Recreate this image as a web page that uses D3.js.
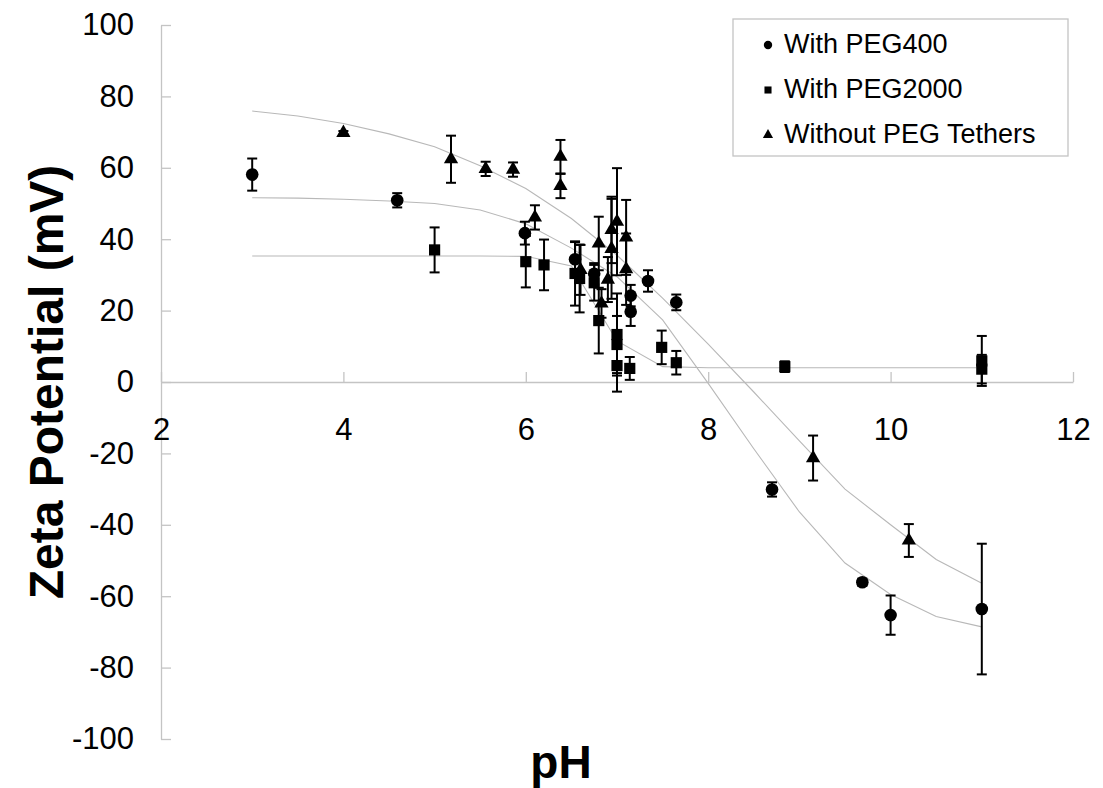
<!DOCTYPE html>
<html>
<head>
<meta charset="utf-8">
<script src="https://cdn.jsdelivr.net/npm/d3@7"></script>
<style>
  body { margin: 0; background: #fff; }
  text { font-family: "Liberation Sans", Arial, sans-serif; }
</style>
</head>
<body>
<div id="chart-area"></div>
<script>

// measured points: [pH, zeta (mV), error]
const peg400 = [
    [3.0, 58.1, 4.5], [4.59, 50.9, 2], [5.99, 41.7, 3.2], [6.54, 34.4, 4.8],
    [6.75, 30.3, 3], [7.15, 24.2, 3], [7.15, 19.7, 4], [7.34, 28.3, 3],
    [7.65, 22.3, 2.2], [8.7, -30.1, 2], [9.69, -56.1, 1], [10.0, -65.3, 5.5],
    [11.0, -63.6, 18.3]
];
const peg2000 = [
    [5.0, 37.0, 6.3], [6.0, 33.7, 7.2], [6.2, 32.8, 7.1], [6.54, 30.4, 9],
    [6.59, 29.0, 9.5], [6.75, 27.8, 5], [6.8, 17.2, 9.2], [7.0, 13.3, 11.5],
    [7.0, 10.5, 8], [7.0, 4.6, 7.3], [7.14, 3.8, 3.2], [7.49, 9.7, 4.7],
    [7.65, 5.4, 3.3], [8.84, 4.3, 1.5], [11.0, 5.9, 7], [11.0, 3.6, 4]
];
const noPeg = [
    [4.0, 69.8, 0.5], [5.18, 62.4, 6.6], [5.56, 59.7, 2], [5.86, 59.5, 2],
    [6.1, 46.1, 3.4], [6.38, 63.1, 4.7], [6.38, 54.9, 3.4], [6.6, 31.4, 7],
    [6.8, 38.8, 7.5], [6.83, 22.0, 4], [6.9, 28.7, 6.3], [6.94, 42.6, 9.3],
    [6.94, 37.3, 14], [7.0, 44.9, 15], [7.1, 40.5, 10.5], [7.1, 31.6, 10],
    [9.15, -21.3, 6.3], [10.2, -44.4, 4.6]
];

// fitted curves, sampled every 0.5 pH
const fitPH = [3, 3.5, 4, 4.5, 5, 5.5, 6, 6.5, 7, 7.5, 8, 8.5, 9, 9.5, 10, 10.5, 11];
const fit400 = [51.6, 51.5, 51.2, 50.7, 50.0, 48.2, 44.3, 37.5, 29.5, 17.4, -0.4, -18.7, -36.4, -50.7, -59.5, -65.7, -68.6];
const fit2000 = [35.3, 35.3, 35.3, 35.3, 35.3, 35.3, 35.2, 32.5, 11.5, 4.3, 4.0, 4.0, 4.0, 4.0, 4.0, 4.0, 4.0];
const fitNoPeg = [75.9, 74.5, 72.4, 69.5, 65.9, 60.6, 54.2, 45.8, 35.5, 23.5, 10.6, -2.8, -16.5, -30, -40, -49.7, -56.4];

const xTicks = [2, 4, 6, 8, 10, 12];
const yTicks = [-100, -80, -60, -40, -20, 0, 20, 40, 60, 80, 100];
const seriesNames = ["With PEG400", "With PEG2000", "Without PEG Tethers"];

const width = 1103, height = 788;
const axisColor = "#c4c4c4";

const svg = d3.select('#chart-area')
    .append('svg')
    .attr('width', width)
    .attr('height', height);

const x = d3.scaleLinear().domain([2, 12]).range([161, 1073]);
const y = d3.scaleLinear().domain([-100, 100]).range([739, 25]);

// axes (plain hyphen for negatives, like the original)
const fmt = d => String(d);
const yAxis = svg.append("g")
    .attr("transform", "translate(" + x(2) + ",0)")
    .call(d3.axisLeft(y).tickValues(yTicks).tickFormat(fmt)
        .tickSizeInner(-10).tickSizeOuter(0).tickPadding(27));
const xAxis = svg.append("g")
    .attr("transform", "translate(0," + y(0) + ")")
    .call(d3.axisBottom(x).tickValues(xTicks).tickFormat(fmt)
        .tickSizeInner(-10).tickSizeOuter(0).tickPadding(36));

[xAxis, yAxis].forEach(a => {
    a.selectAll("path, line").attr("stroke", axisColor).attr("stroke-width", 1.3);
    a.selectAll("text")
        .attr("fill", "#000")
        .style("font-size", "31px")
        .style("font-family", "'Liberation Sans', Arial, sans-serif");
});

// fitted lines
const line = d3.line().x(d => x(d[0])).y(d => y(d[1]));
[fitNoPeg, fit400, fit2000].forEach(vals => {
    svg.append("path")
        .datum(fitPH.map((p, i) => [p, vals[i]]))
        .attr("fill", "none")
        .attr("stroke", "#b8b8b8")
        .attr("stroke-width", 1.1)
        .attr("d", line);
});

const series = [
    { data: peg400, symbol: d3.symbolCircle, size: 125 },
    { data: peg2000, symbol: d3.symbolSquare, size: 125 },
    { data: noPeg, symbol: d3.symbolTriangle, size: 88 }
];

// error bars
series.forEach(s => {
    const g = svg.append("g").attr("stroke", "#000").attr("stroke-width", 2);
    g.selectAll("line.v")
        .data(s.data)
        .join("line").attr("class", "v")
        .attr("x1", d => x(d[0])).attr("x2", d => x(d[0]))
        .attr("y1", d => y(d[1] + d[2])).attr("y2", d => y(d[1] - d[2]));
    g.selectAll("line.top")
        .data(s.data)
        .join("line").attr("class", "top")
        .attr("x1", d => x(d[0]) - 5).attr("x2", d => x(d[0]) + 5)
        .attr("y1", d => y(d[1] + d[2])).attr("y2", d => y(d[1] + d[2]));
    g.selectAll("line.bot")
        .data(s.data)
        .join("line").attr("class", "bot")
        .attr("x1", d => x(d[0]) - 5).attr("x2", d => x(d[0]) + 5)
        .attr("y1", d => y(d[1] - d[2])).attr("y2", d => y(d[1] - d[2]));
});

// markers
series.forEach(s => {
    svg.append("g").selectAll("path")
        .data(s.data)
        .join("path")
        .attr("transform", d => "translate(" + x(d[0]) + "," + y(d[1]) + ")")
        .attr("d", d3.symbol().type(s.symbol).size(s.size))
        .attr("fill", "#000");
});

// axis titles
svg.append("text")
    .attr("x", 561)
    .attr("y", 778)
    .attr("text-anchor", "middle")
    .style("font-size", "46px")
    .style("font-weight", "bold")
    .text("pH");

svg.append("text")
    .attr("transform", "translate(63," + y(0) + ") rotate(-90)")
    .attr("text-anchor", "middle")
    .style("font-size", "48px")
    .style("font-weight", "bold")
    .text("Zeta Potential (mV)");

// legend
const legend = svg.append("g");
legend.append("rect")
    .attr("x", 733).attr("y", 19)
    .attr("width", 335).attr("height", 137)
    .attr("fill", "#fff")
    .attr("stroke", axisColor)
    .attr("stroke-width", 1.3);

const legendSymbols = [
    { symbol: d3.symbolCircle, size: 55 },
    { symbol: d3.symbolSquare, size: 50 },
    { symbol: d3.symbolTriangle, size: 45 }
];
const legendY = [45, 90, 135];

legend.selectAll("path")
    .data(legendSymbols)
    .join("path")
    .attr("transform", (d, i) => "translate(768," + legendY[i] + ")")
    .attr("d", d => d3.symbol().type(d.symbol).size(d.size)())
    .attr("fill", "#000");

legend.selectAll("text")
    .data(seriesNames)
    .join("text")
    .attr("x", 784)
    .attr("y", (d, i) => legendY[i] + 8)
    .style("font-size", "27px")
    .text(d => d);

</script>
</body>
</html>
